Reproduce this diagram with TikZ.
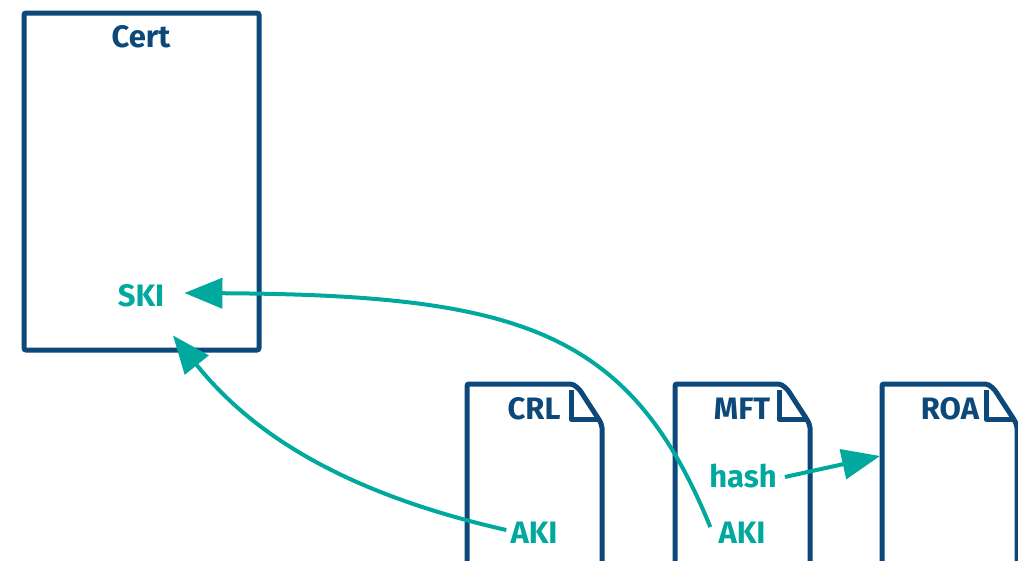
\documentclass[tikz,border=0pt]{standalone}
\usepackage{fontspec}
\setmainfont{Fira Sans}
\usetikzlibrary{arrows.meta}
\definecolor{navy}{RGB}{12,72,122}
\definecolor{tealc}{RGB}{0,168,158}
\tikzset{
  box/.style={draw=navy,line width=5pt,rounded corners=2pt},
  title/.style={text=navy,font=\fontsize{31}{33}\selectfont\bfseries,inner sep=0pt},
  field/.style={text=tealc,font=\fontsize{31}{33}\selectfont\bfseries,inner sep=0pt},
  link/.style={draw=tealc,line width=4pt,-{Triangle[length=38pt,width=30pt]}}
}
\newcommand{\docpath}[1]{%
  \draw[box] (#1,600) -- (#1,384) -- (#1+101,384) .. controls (#1+108,384) and (#1+113,390) .. (#1+116,395) -- (#1+131,418) .. controls (#1+134,423) and (#1+135,426) .. (#1+135,430) -- (#1+135,600);
  \draw[navy,line width=5pt,line join=round] (#1+104,390) -- (#1+104,419) -- (#1+133,419);
}
\begin{document}
\begin{tikzpicture}[x=1pt,y=-1pt]
\useasboundingbox (0,0) rectangle (1018,560);
\clip (0,0) rectangle (1018,560);
\draw[box] (24,13) rectangle (259,350);
\node[title] (cert) at (141,37) {Cert};
\node[field] (ski) at (141,296) {SKI};
\docpath{467}
\docpath{675}
\docpath{882}
\node[title] (crl) at (534,409) {CRL};
\node[title] (mft) at (742,409) {MFT};
\node[title] (roa) at (950,409) {ROA};
\node[field] (crlaki) at (534,533) {AKI};
\node[field] (mftaki) at (742,533) {AKI};
\node[field] (hash) at (743,476) {hash};
\coordinate (roaw) at (880,456);
\draw[link] ([xshift=-4pt,yshift=3pt]crlaki.west) .. controls (330,490) and (245,425) .. ([shift={(32pt,-28pt)}]ski.south);
\draw[link] ([xshift=-8pt,yshift=6pt]mftaki.west) .. controls (630,330) and (520,295) .. ([xshift=20pt,yshift=3pt]ski.east);
\draw[link] ([xshift=8pt,yshift=-1pt]hash.east) -- (roaw);
\end{tikzpicture}
\end{document}
